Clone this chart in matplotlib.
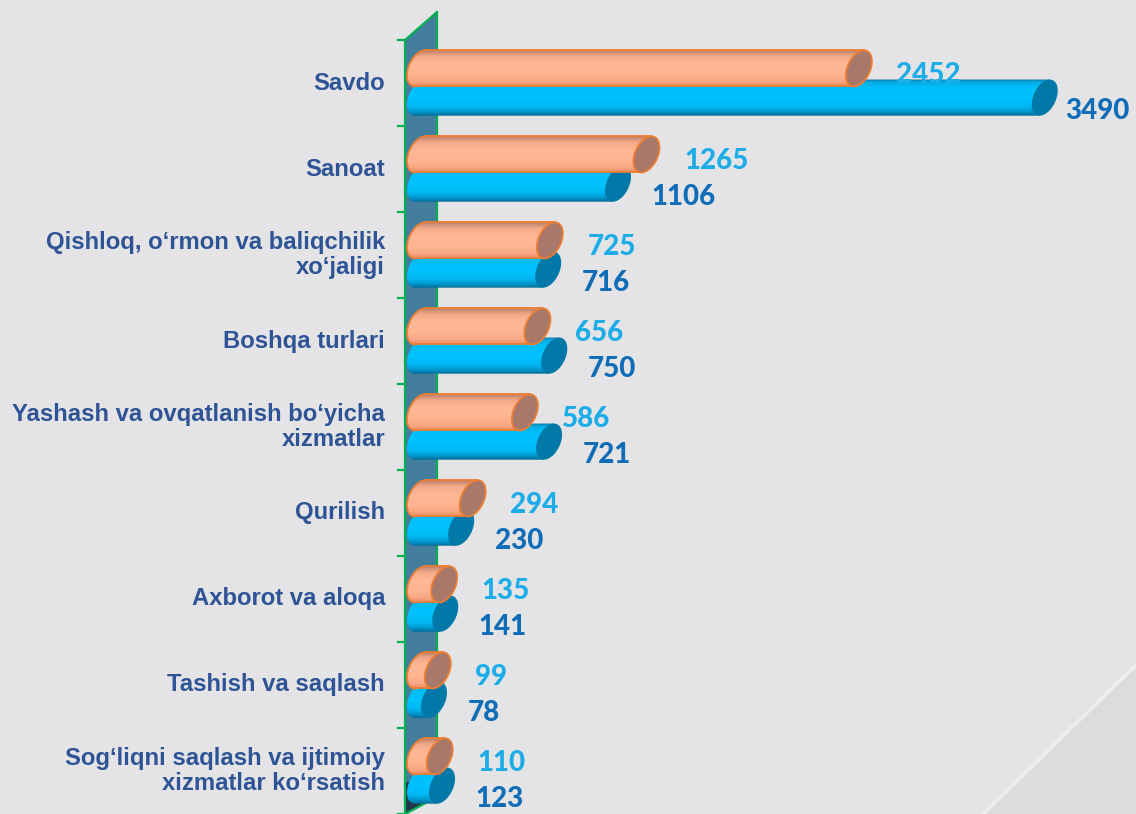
import numpy as np
import matplotlib
matplotlib.use("Agg")
import matplotlib.pyplot as plt
import matplotlib.transforms as mtransforms
from matplotlib.patches import Ellipse, Polygon
from matplotlib.lines import Line2D
from matplotlib.colors import LinearSegmentedColormap

# ── Data ───────────────────────────────────────────────────────────────────────

CATEGORIES = [
    "Savdo",
    "Sanoat",
    "Qishloq, o‘rmon va baliqchilik\nxo‘jaligi",
    "Boshqa turlari",
    "Yashash va ovqatlanish bo‘yicha\nxizmatlar",
    "Qurilish",
    "Axborot va aloqa",
    "Tashish va saqlash",
    "Sog‘liqni saqlash va ijtimoiy\nxizmatlar ko‘rsatish",
]
ORANGE_VALUES = [2452, 1265, 725, 656, 586, 294, 135, 99, 110]
BLUE_VALUES   = [3490, 1106, 716, 750, 721, 230, 141, 78, 123]

# ── Style ──────────────────────────────────────────────────────────────────────

W, H, DPI    = 1136, 814, 100
BG           = "#E4E4E6"
ZERO_PX      = 420      # pixel where value 0 sits (centre of the back cap)
PX_PER_UNIT  = 0.179
CAT_PX       = 86       # pixel pitch of one category
FIRST_CAT_PX = 83
BAR_H        = 0.42     # in category units
BAR_SHIFT    = 0.17     # orange up, blue down
CAP_PX       = 24
SHEAR        = 0.28

ORANGE_CMAP = LinearSegmentedColormap.from_list("orange_cyl", [
    (0.00, "#9E6E5E"), (0.08, "#C98D75"), (0.20, "#F2AA88"), (0.40, "#FFB896"),
    (0.70, "#FFB491"), (0.88, "#F8A683"), (1.00, "#E98E63")])
BLUE_CMAP = LinearSegmentedColormap.from_list("blue_cyl", [
    (0.00, "#0B6F98"), (0.07, "#0AA6DE"), (0.20, "#00BDF7"), (0.50, "#00C3FF"),
    (0.75, "#00B8F2"), (0.90, "#0093C8"), (1.00, "#006A95")])

ORANGE_EDGE = "#ED7D31"
ORANGE_CAP  = "#A8786A"
BLUE_CAP    = "#0079A8"
LABEL_LIGHT = "#1CADE8"
LABEL_DARK  = "#0F6CB6"
CAT_COLOR   = "#2E5496"
WALL        = "#437D9E"
GREEN       = "#00B050"

# ── Figure ─────────────────────────────────────────────────────────────────────

fig = plt.figure(figsize=(W / DPI, H / DPI), dpi=DPI)
fig.patch.set_facecolor(BG)
ax = fig.add_axes([0, 0, 1, 1])
ax.set_facecolor("none")
ax.axis("off")
ax.set_xlim(-ZERO_PX / PX_PER_UNIT, (W - ZERO_PX) / PX_PER_UNIT)
ax.set_ylim((H - FIRST_CAT_PX) / CAT_PX, -FIRST_CAT_PX / CAT_PX)

# pixel space with y pointing down, like the screenshot
PIX = mtransforms.Affine2D().scale(1, -1).translate(0, H)
X_PIX_Y_DATA = mtransforms.blended_transform_factory(mtransforms.IdentityTransform(), ax.transData)

# slide decoration bottom-right
ax.add_patch(Polygon([(983, 814), (1136, 665), (1136, 814)], closed=True,
                     transform=PIX, facecolor="#DCDCDE", edgecolor="none", zorder=0))
ax.add_line(Line2D([983, 1136], [814, 665], transform=PIX, color="#EEEEF0", lw=2.5, zorder=0.1))

# ── 3D wall ───────────────────────────────────────────────────────────────────

ax.add_patch(Polygon([(405, 40), (437, 12), (437, 797), (405, 814)], closed=True,
                     transform=PIX, facecolor=WALL, edgecolor="none", zorder=1))
ax.add_patch(Polygon([(406, 782), (437, 782), (437, 797), (406, 814)], closed=True,
                     transform=PIX, facecolor="#22384A", edgecolor="none", zorder=1.1))
for xs, ys in [([405, 405], [40, 814]), ([437, 437], [12, 797]),
               ([405, 437], [40, 12]), ([405, 437], [814, 797])]:
    ax.add_line(Line2D(xs, ys, transform=PIX, color=GREEN, lw=1.6, zorder=1.2,
                       solid_capstyle="round"))
n = len(CATEGORIES)
for b in np.arange(n + 1) - 0.5:
    ax.add_line(Line2D([398, 405], [b, b], transform=X_PIX_Y_DATA, color=GREEN, lw=1.6, zorder=1.2))

# ── Cylinders ─────────────────────────────────────────────────────────────────

grad = np.linspace(0, 1, 256)[:, None]


def cylinder(yc, value, cmap, cap_color, edge, z):
    cy = ax.transData.transform((0, yc))[1]
    shear = mtransforms.Affine2D().translate(0, -cy).skew(np.arctan(SHEAR), 0).translate(0, cy)
    tr = ax.transData + shear
    cap_w = CAP_PX / PX_PER_UNIT
    y0, y1 = yc - BAR_H / 2, yc + BAR_H / 2
    ext = (-cap_w, value + cap_w, y1, y0)

    # rounded back end
    back = Ellipse((0, yc), cap_w, BAR_H, transform=tr, facecolor="none",
                   edgecolor=edge if edge else "none", lw=1.3, zorder=z)
    ax.add_patch(back)
    im = ax.imshow(grad, cmap=cmap, extent=ext, aspect="auto", interpolation="bilinear",
                   zorder=z - 0.01)
    im.set_clip_path(back.get_path(), back.get_transform())

    # body (the bar itself, sheared a little to look like a 3D cylinder)
    body = ax.barh(yc, value, height=BAR_H, left=0, color="none", linewidth=0, zorder=z + 0.1)[0]
    body.set_transform(tr)
    im = ax.imshow(grad, cmap=cmap, extent=ext, aspect="auto", interpolation="bilinear",
                   zorder=z + 0.1)
    im.set_clip_path(body.get_path(), body.get_transform())
    if edge:
        for yy in (y0, y1):
            ax.add_line(Line2D([0, value], [yy, yy], transform=tr, color=edge, lw=1.3,
                               zorder=z + 0.2))

    # visible front cap
    ax.add_patch(Ellipse((value, yc), cap_w, BAR_H, transform=tr, facecolor=cap_color,
                         edgecolor=edge if edge else "none", lw=1.3, zorder=z + 0.3))


labels = []
for i, (vo, vb) in enumerate(zip(ORANGE_VALUES, BLUE_VALUES)):
    z = 2 + i
    cylinder(i + BAR_SHIFT, vb, BLUE_CMAP, BLUE_CAP, None, z)
    cylinder(i - BAR_SHIFT, vo, ORANGE_CMAP, ORANGE_CAP, ORANGE_EDGE, z + 0.5)

    t = ax.annotate(f"{vo}", xy=(vo, i - BAR_SHIFT), xytext=(27, -4.5), textcoords="offset points",
                    ha="left", va="center", fontsize=20, fontweight="black", family="Lato",
                    color=LABEL_LIGHT, zorder=20)
    labels.append(t)
    t = ax.annotate(f"{vb}", xy=(vb, i + BAR_SHIFT), xytext=(24, -9.5), textcoords="offset points",
                    ha="left", va="center", fontsize=20, fontweight="black", family="Lato",
                    color=LABEL_DARK, zorder=20)
    labels.append(t)

# category names
for i, name in enumerate(CATEGORIES):
    ax.text(385, i, name, transform=X_PIX_Y_DATA, ha="right", va="center",
            fontsize=17.2, fontweight="bold", family="Liberation Sans", color=CAT_COLOR,
            linespacing=1.12, zorder=20)

# keep value labels inside the picture
fig.canvas.draw()
for t in labels:
    bb = t.get_window_extent()
    if bb.x1 > W - 6:
        dx, dy = t.xyann
        t.xyann = (dx - (bb.x1 - (W - 6)) * 72 / DPI, dy)

fig.savefig("out.png", dpi=DPI, facecolor=BG)
